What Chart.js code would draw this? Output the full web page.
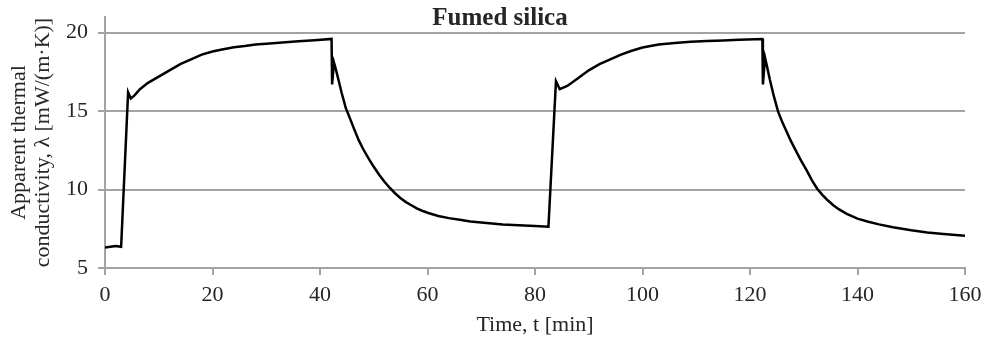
<!DOCTYPE html>
<html>
<head>
<meta charset="utf-8">
<script src="https://cdn.jsdelivr.net/npm/chart.js@4"></script>
<style>
  html, body { margin: 0; padding: 0; background: #fff; }
  #wrap { width: 983px; height: 337px; position: relative; }
</style>
</head>
<body>
<div id="wrap"><canvas id="chart"></canvas></div>
<script>
"use strict";

const CHART_TITLE = "Fumed silica";
const X_TITLE = "Time, t [min]";
const Y_TITLE = ["Apparent thermal", "conductivity, λ [mW/(m·K)]"];

const X_TICKS = [0, 20, 40, 60, 80, 100, 120, 140, 160];
const Y_TICKS = [5, 10, 15, 20];

// time in minutes
const timeMin = [
  0, 1, 2, 3.0, 4.3, 4.8, 5.5, 6.5, 8, 10, 12, 14, 16, 18, 20, 22, 24, 26, 28, 30,
  33, 36, 39, 42.15, 42.25, 42.6, 43, 43.5, 44, 44.8, 45.5, 46.3, 47.2, 48, 49, 50,
  51, 52, 53, 54, 55, 56, 57, 58, 59, 60, 62, 64, 66, 68, 71, 74, 77, 80, 82.5,
  83.9, 84.6, 86, 88, 90, 92, 94, 96, 98, 100, 103, 106, 109, 112, 115, 118,
  122.3, 122.4, 122.8, 123.2, 123.7, 124.4, 125.2, 126, 126.8, 127.6, 128.5, 129.5,
  130.5, 131.5, 132.5, 133.5, 134.5, 135.5, 136.5, 138, 140, 142, 144, 146.6, 150,
  153, 156, 160
];

// apparent thermal conductivity, mW/(m·K)
const conductivity = [
  6.30, 6.35, 6.40, 6.35, 16.2, 15.8, 16.0, 16.4, 16.8, 17.2, 17.6, 18.0, 18.3, 18.6, 18.8, 18.95, 19.07, 19.15, 19.25, 19.3,
  19.38, 19.45, 19.52, 19.6, 16.7, 18.1, 17.6, 16.9, 16.2, 15.2, 14.6, 13.9, 13.15, 12.6, 12.0, 11.45,
  10.95, 10.5, 10.1, 9.75, 9.45, 9.2, 9.0, 8.8, 8.65, 8.52, 8.32, 8.18, 8.07, 7.97, 7.87, 7.78, 7.72, 7.68, 7.63,
  16.9, 16.4, 16.6, 17.1, 17.6, 18.0, 18.3, 18.6, 18.85, 19.05, 19.25, 19.35, 19.42, 19.47, 19.5, 19.55,
  19.6, 16.7, 18.4, 17.8, 17.0, 16.0, 15.0, 14.3, 13.7, 13.1, 12.5, 11.85,
  11.25, 10.6, 10.05, 9.65, 9.3, 9.0, 8.75, 8.45, 8.15, 7.95, 7.78, 7.6, 7.4,
  7.27, 7.17, 7.06
];

const FONT = "'Liberation Serif', 'Times New Roman', serif";
const INK = "#262626";
const AXIS_GREY = "#a3a3a3";

const points = timeMin.map((t, i) => ({ x: t, y: conductivity[i] }));

// title sits over the top edge of the plot, so draw it by hand
const titlePlugin = {
  id: "overlayTitle",
  afterDraw(chart) {
    const ctx = chart.ctx;
    ctx.save();
    ctx.font = "bold 25px " + FONT;
    ctx.fillStyle = INK;
    ctx.textAlign = "center";
    ctx.textBaseline = "alphabetic";
    ctx.fillText(CHART_TITLE, 500, 25);
    ctx.restore();
  },
};

// pin the plot box: drop the label overflow padding the scales ask for
function noScalePadding(scale) {
  scale.paddingTop = 0;
  scale.paddingBottom = 0;
  scale.paddingLeft = 0;
  scale.paddingRight = 0;
}

new Chart(document.getElementById("chart"), {
  type: "line",
  data: {
    datasets: [{
      data: points,
      borderColor: "#000",
      borderWidth: 2.5,
      pointRadius: 0,
      tension: 0,
      fill: false,
    }],
  },
  options: {
    responsive: true,
    maintainAspectRatio: false,
    animation: false,
    layout: { padding: { top: 17, right: 18, left: 0, bottom: 0 } },
    plugins: { legend: { display: false }, tooltip: { enabled: false } },
    scales: {
      x: {
        type: "linear",
        min: 0,
        max: 160,
        afterBuildTicks: (scale) => { scale.ticks = X_TICKS.map((v) => ({ value: v })); },
        afterFit: (scale) => { scale.height = 69; noScalePadding(scale); },
        grid: { drawOnChartArea: false, drawTicks: true, tickLength: 7, color: AXIS_GREY, lineWidth: 2 },
        border: { display: true, color: AXIS_GREY, width: 2 },
        ticks: { color: INK, font: { family: FONT, size: 22 }, padding: 7, maxRotation: 0 },
        title: {
          display: true, text: X_TITLE, color: INK,
          font: { family: FONT, size: 22, lineHeight: 1.1 }, padding: { top: 0, bottom: 0 },
        },
      },
      y: {
        type: "linear",
        min: 5,
        max: 21,
        afterBuildTicks: (scale) => { scale.ticks = Y_TICKS.map((v) => ({ value: v })); },
        afterFit: (scale) => { scale.width = 105; noScalePadding(scale); },
        grid: { drawTicks: true, tickLength: 7, color: AXIS_GREY, lineWidth: 2 },
        border: { display: true, color: AXIS_GREY, width: 2 },
        ticks: { color: INK, font: { family: FONT, size: 22 }, padding: 10 },
        title: {
          display: true, text: Y_TITLE, color: INK,
          font: { family: FONT, size: 22, lineHeight: 1.1 }, padding: { top: 7, bottom: 0 },
        },
      },
    },
  },
  plugins: [titlePlugin],
});
</script>
</body>
</html>
